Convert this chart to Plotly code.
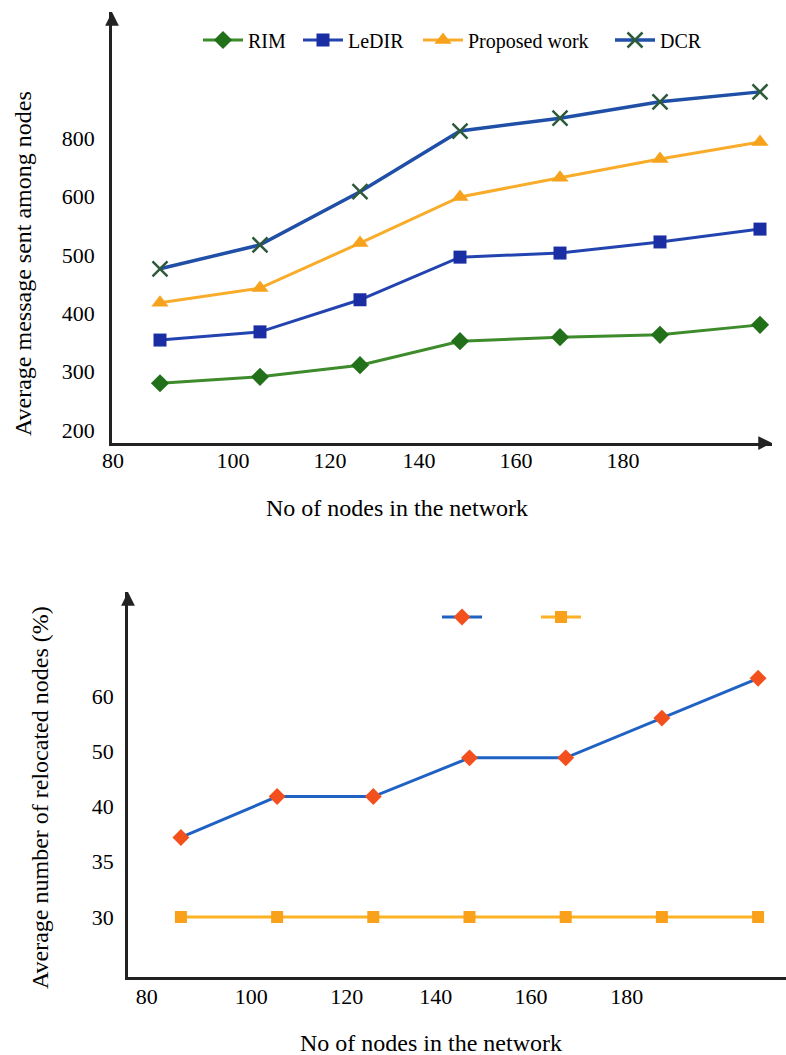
import plotly.graph_objects as go

# ---------------- data ----------------
nodes = [90, 110, 130, 150, 170, 190, 210]

# top chart (values in axis-position units; tick labels below)
rim = [280, 291, 311, 352, 359, 363, 380]
ledir = [354, 368, 423, 496, 503, 522, 544]
proposed = [418, 443, 520, 599, 632, 664, 693]
dcr = [476, 517, 608, 712, 734, 762, 779]
top_ytickvals = [200, 300, 400, 500, 600, 700]
top_yticktext = ["200", "300", "400", "500", "600", "800"]
top_xtickvals = [80.6, 104.6, 124, 141.8, 161.2, 182.6]
xticktext = ["80", "100", "120", "140", "160", "180"]

# bottom chart
relocated_a = [37.2, 40.9, 40.9, 44.4, 44.4, 48.0, 51.6]
relocated_b = [30, 30, 30, 30, 30, 30, 30]
bot_ytickvals = [30, 35, 40, 45, 50]
bot_yticktext = ["30", "35", "40", "50", "60"]
bot_xtickvals = [82.9, 104.6, 124.5, 143, 162.8, 182.7]

W, H = 786, 1055
def fx(px):
    return px / W
def fy(py):
    return 1 - py / H

FONT = "Liberation Serif"

fig = go.Figure()

fig.add_trace(go.Scatter(x=nodes, y=rim, name="RIM", mode="lines+markers",
                         line=dict(color="#3d8b2a", width=3),
                         marker=dict(symbol="diamond", size=14, color="#22701a"),
                         xaxis="x", yaxis="y", legend="legend", cliponaxis=False))
fig.add_trace(go.Scatter(x=nodes, y=ledir, name="LeDIR", mode="lines+markers",
                         line=dict(color="#2344b0", width=3),
                         marker=dict(symbol="square", size=13, color="#1a2da3"),
                         xaxis="x", yaxis="y", legend="legend2", cliponaxis=False))
fig.add_trace(go.Scatter(x=nodes, y=proposed, name="Proposed work", mode="lines+markers",
                         line=dict(color="#f8ac2a", width=3),
                         marker=dict(symbol="triangle-up", size=15, color="#f6a21c"),
                         xaxis="x", yaxis="y", legend="legend3", cliponaxis=False))
fig.add_trace(go.Scatter(x=nodes, y=dcr, name="DCR", mode="lines+markers",
                         line=dict(color="#1f4fa6", width=3.5),
                         marker=dict(symbol="x-thin", size=15, color="#2c5a3a",
                                     line=dict(color="#2c5a3a", width=2.5)),
                         xaxis="x", yaxis="y", legend="legend4", cliponaxis=False))

fig.add_trace(go.Scatter(x=nodes, y=relocated_a, name="", mode="lines+markers",
                         line=dict(color="#1f62c4", width=3),
                         marker=dict(symbol="diamond", size=13, color="#f2501c"),
                         xaxis="x2", yaxis="y2", legend="legend5", cliponaxis=False))
fig.add_trace(go.Scatter(x=nodes, y=relocated_b, name="", mode="lines+markers",
                         line=dict(color="#fbb224", width=3),
                         marker=dict(symbol="square", size=12, color="#f9a11b"),
                         xaxis="x2", yaxis="y2", legend="legend6", cliponaxis=False))

tick_font = dict(family=FONT, size=22, color="black")
axis_common = dict(showgrid=False, zeroline=False, showline=True, linecolor="#222222",
                   linewidth=2.5, ticks="", automargin=False)

top_dom_x = [fx(112), fx(772)]
top_dom_y = [fy(443), fy(12)]
bot_dom_x = [fx(128), fx(786)]
bot_dom_y = [fy(977), fy(592)]

leg_common = dict(orientation="h", bgcolor="rgba(0,0,0,0)", borderwidth=0,
                  font=dict(family=FONT, size=20, color="black"), itemwidth=40,
                  xanchor="left", yanchor="middle", xref="paper", yref="paper")

fig.update_layout(
    width=W, height=H,
    font=dict(family=FONT, color="black"),
    margin=dict(l=0, r=0, t=0, b=0),
    paper_bgcolor="white", plot_bgcolor="white",
    xaxis=dict(domain=top_dom_x, range=[80.4, 212.4], tickvals=top_xtickvals,
               ticktext=xticktext, anchor="y", ticklabelstandoff=-4,
               tickfont=tick_font, **axis_common),
    yaxis=dict(domain=top_dom_y, range=[177.7, 915.8], tickvals=top_ytickvals,
               ticktext=top_yticktext, anchor="x", ticklabelstandoff=10,
               tickfont=tick_font, **axis_common),
    xaxis2=dict(domain=bot_dom_x, range=[79.0, 215.8], tickvals=bot_xtickvals,
                ticktext=xticktext, anchor="y2", ticklabelstandoff=-2,
                tickfont=tick_font, **axis_common),
    yaxis2=dict(domain=bot_dom_y, range=[24.57, 59.41], tickvals=bot_ytickvals,
                ticktext=bot_yticktext, anchor="x2", ticklabelstandoff=7,
                tickfont=tick_font, **axis_common),
    legend=dict(x=fx(198), y=fy(40), **leg_common),
    legend2=dict(x=fx(298), y=fy(40), **leg_common),
    legend3=dict(x=fx(418), y=fy(40), **leg_common),
    legend4=dict(x=fx(610), y=fy(40), **leg_common),
    legend5=dict(x=fx(437), y=fy(617), **leg_common),
    legend6=dict(x=fx(536), y=fy(617), **leg_common),
    showlegend=True,
)

title_font = dict(family=FONT, size=24, color="black")
annotations = [
    dict(text="Average message sent among nodes", x=fx(23), y=fy(264), xref="paper",
         yref="paper", textangle=-90, showarrow=False, font=title_font,
         xanchor="center", yanchor="middle"),
    dict(text="No of nodes in the network", x=fx(397), y=fy(508), xref="paper",
         yref="paper", showarrow=False, font=title_font, xanchor="center", yanchor="middle"),
    dict(text="Average number of relocated nodes (%)", x=fx(40), y=fy(798), xref="paper",
         yref="paper", textangle=-90, showarrow=False, font=title_font,
         xanchor="center", yanchor="middle"),
    dict(text="No of nodes in the network", x=fx(431), y=fy(1043), xref="paper",
         yref="paper", showarrow=False, font=title_font, xanchor="center", yanchor="middle"),
]
# arrow heads on the axes
arrow_common = dict(showarrow=True, arrowhead=2, arrowsize=1.1, arrowwidth=2.5,
                    arrowcolor="#222222", text="", axref="pixel", ayref="pixel")
annotations += [
    dict(x=0, y=1, xref="x domain", yref="y domain", ax=0, ay=14, **arrow_common),
    dict(x=1, y=0, xref="x domain", yref="y domain", ax=-14, ay=0, **arrow_common),
    dict(x=0, y=1, xref="x2 domain", yref="y2 domain", ax=0, ay=14, **arrow_common),
]
fig.update_layout(annotations=annotations)

fig.write_html("out.html", config={"displayModeBar": False},
               post_script="document.body.style.margin='0';document.body.style.overflow='hidden';")
